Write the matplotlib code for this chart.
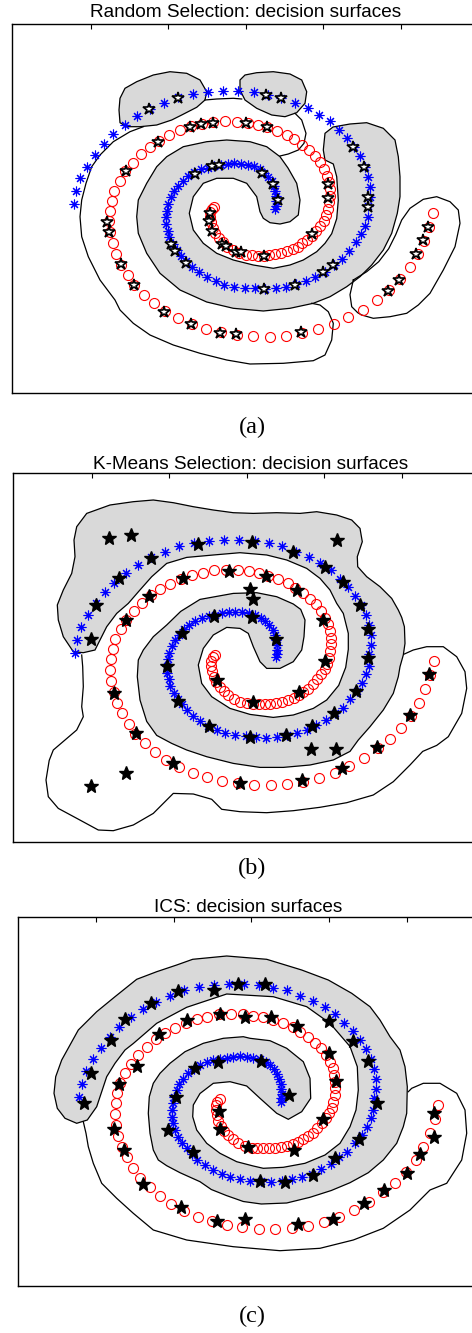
import numpy as np
import matplotlib.pyplot as plt

plt.rcParams['font.family'] = ['Liberation Sans', 'DejaVu Sans']

# ---- two-spiral training set (same points in all three panels) ----
blue_pts = [
    (-172.0, 4.8), (-169.3, 17.5), (-165.3, 30.8), (-158.3, 42.2), (-150.8, 54), (-141.8, 65),
    (-132.5, 74.8), (-120.8, 84.2), (-108.5, 92.7), (-95.8, 100), (-81.6, 105.8), (-67.6, 111.5),
    (-52.6, 114.5), (-37.6, 116.8), (-22.5, 117.8), (-7.5, 117.3), (7.8, 116.5), (22, 114),
    (35.4, 111.2), (49, 105.6), (62, 100.3), (73.2, 94.2), (83.8, 87.5), (93, 78.8), (101.7, 70.3),
    (108.7, 61.5), (114.4, 52.7), (119.4, 42.2), (122.7, 32.2), (124.4, 22.2), (124.7, 12.2),
    (122.7, 3.2), (122, -8.5), (119.7, -16.8), (115.4, -25.2), (110.4, -33.5), (103.7, -41.8),
    (96, -50.2), (88, -55.8), (79.7, -62.8), (69.7, -67.8), (60.4, -72.5), (50.4, -75.2),
    (40.4, -77.8), (30.4, -79.5), (19.4, -80.2), (9.4, -79.5), (-1, -79), (-11.3, -77.8),
    (-21.3, -75.8), (-29.6, -72.5), (-38.6, -68.5), (-46.3, -63.5), (-54, -58.5), (-59.6, -52.5),
    (-64.6, -46.8), (-69, -41.2), (-73, -35.2), (-76.3, -28.5), (-78, -21.8), (-79.3, -15.2),
    (-79.6, -8.5), (-78.6, -1.8), (-77.3, 4.8), (-74.6, 11.5), (-72, 17.5), (-68, 22.8),
    (-63, 28.2), (-57.3, 32.8), (-51.3, 36.6), (-44.6, 39.5), (-38, 41.2), (-31.3, 42.8),
    (-24.6, 44), (-18, 45), (-11.3, 45.4), (-4.6, 45), (2, 44), (8.7, 42.4), (14.4, 39.6),
    (18.7, 36.2), (22.7, 32.2), (26, 27.5), (28, 22.5), (29.4, 17.5), (30, 12.5), (30.4, 7.5),
    (30, 3.2), (29.4, 0),
]
red_pts = [
    (187, -3.8), (183.7, -17.8), (178.7, -31.8), (172, -45.2), (164.4, -58.5), (154.7, -70.2),
    (143.7, -81.2), (131.4, -90.8), (117.7, -100.8), (102.7, -108.5), (88, -115.2), (72.7, -120.2),
    (56.4, -124.2), (40.4, -126.8), (24, -127.8), (7.5, -127.5), (-9, -125.8), (-24.6, -123.5),
    (-39.6, -119.8), (-53.6, -115.2), (-67.3, -109.2), (-80.3, -102.5), (-91.3, -94.5),
    (-101.3, -85.8), (-111.3, -76.2), (-118, -66.2), (-124.6, -55.8), (-129.6, -45.2),
    (-133, -34.2), (-135.3, -23.5), (-136.3, -12.5), (-135.6, -1.8), (-134, 8.2), (-131.3, 18.2),
    (-126, 28.2), (-120.3, 37.5), (-113, 46.2), (-104.6, 54.8), (-95.6, 62.2), (-86.3, 68.2),
    (-76.3, 73.8), (-65.3, 78.8), (-54.6, 82.5), (-44, 84.8), (-32.3, 87.2), (-20.6, 87.8),
    (-8.6, 87.2), (2, 86), (12, 84.2), (21.4, 81.5), (31.4, 78.2), (41.4, 74.2), (48.7, 69.8),
    (56.4, 64.2), (63.7, 58.8), (69.7, 53.2), (74.7, 46.5), (78.7, 39.8), (81.4, 33.2), (83, 26.5),
    (84, 19.8), (84, 13.2), (83.4, 6.5), (82, -0.2), (80.4, -6.2), (78, -11.8), (74.7, -16.8),
    (70.7, -21.8), (66, -26.8), (61.4, -31.2), (56.7, -34.5), (52, -37.8), (47, -40.5),
    (41.4, -42.5), (35.4, -44.2), (29.7, -45.2), (23.7, -46.2), (18, -46.8), (12, -46.8),
    (6, -46.5), (0.4, -46), (-6.3, -44.2), (-13, -41.2), (-18.6, -37.8), (-23, -33.5),
    (-27, -29.2), (-30.3, -24.5), (-33, -19.2), (-34.6, -13.5), (-35.6, -8.5), (-35.6, -3.5),
    (-34, 0), (-31.3, 2.2),
]

# ---- selected samples (black stars) per method ----
stars_random = [
    (-96.4, 99.4), (-67.4, 111), (20.3, 113.7), (35, 110.4), (-55.7, 81.4), (-44.7, 84.7),
    (-32.4, 85.4), (0.3, 85.4), (21, 81.4), (-87.4, 67), (107.6, 61.4), (118.3, 42), (122.6, 12),
    (122.6, 2), (182, -18), (177, -31.3), (170.3, -45.6), (153.3, -71.3), (142, -82), (87, -56.3),
    (77.7, -63), (49.3, -76.3), (18.7, -80.3), (-119.7, 38), (-138.3, -13), (-136.4, -23),
    (-125, -55.6), (-111.4, -76.3), (-33.4, 43), (-26.7, 43.7), (-50.7, 34.7), (16.6, 36),
    (27.6, 24.4), (32, 8.7), (-35.7, -4.7), (-36.4, -12.3), (-34, -22), (-23.4, -35.6),
    (-20, -37.3), (-9.7, -43), (-5, -43.6), (18.3, -47.3), (66, -25.3), (82.6, 24.4), (82.6, 10.4),
    (-74.7, -35.3), (-70.7, -42), (-60, -54.6), (-81.4, -103), (-54.7, -115.3), (-25.7, -124),
    (-10, -125.6), (55.3, -123.6),
]
stars_kmeans = [
    (-137.7, 119.1), (-115.7, 122.4), (-48.4, 113.4), (5.6, 115.7), (46.6, 105.1), (90.6, 117.4),
    (-96, 99.1), (-127.7, 79.1), (-151, 52.8), (-64, 79.7), (-18, 86.7), (19.3, 81.7), (50, 67.4),
    (78.3, 90.1), (96, 75.1), (113.3, 52.4), (3.3, 68.4), (6.6, 58.4), (-97.7, 61.7),
    (-155.7, 18.1), (-120.7, 37.4), (-64.4, 24.7), (-32.4, 41.4), (5, 40.7), (29.3, 18.1),
    (-79.4, -8.6), (-68.4, -43.3), (-30, -22.6), (6.6, -44.3), (52.6, -34.3), (78.3, -3.6),
    (76.7, 37.4), (121.7, 28.1), (121.7, -0.9), (109.3, -33.3), (87.7, -55.9), (65, -68.6),
    (39.3, -77.6), (3.3, -79.9), (-37.4, -68.3), (-132.4, -35.9), (-111, -75.3), (64, -91.6),
    (89.3, -91.6), (130.7, -89.3), (163.3, -57.6), (182.6, -16.6), (-155.7, -128.6),
    (-121, -115.3), (-73.4, -105.9), (-6.7, -125.3), (55.6, -122.6), (95, -110.9),
]
stars_ics = [
    (-140.6, 61.8), (-126.3, 82.2), (-100.5, 98.5), (-73.8, 110.3), (-37.2, 111.5), (-13.4, 117.3),
    (13.3, 117.5), (77.2, 81), (102, 60.8), (-92, 67.2), (-64.6, 81.2), (-31.6, 87.8), (-6.2, 84.5),
    (19.4, 84.8), (45.7, 75.6), (-160.3, 28.2), (-167.8, -1), (-114.6, 36), (-132, 17.4),
    (-137.2, -27.8), (-127.7, -48.2), (-108, -82.5), (-56.3, 33.2), (-33, 39.2), (9.5, 40.8),
    (37.2, 6.5), (-75.3, 4.5), (-83.5, -28.8), (-58, -50.5), (-32.5, -9.3), (-31.6, -27.7),
    (-3.8, -45), (42.3, -48.2), (71.4, -17.8), (85, 20.8), (77.8, 48.8), (117, 40.2), (125.7, -1.8),
    (107.7, -37.5), (83.7, -56.8), (61.2, -73), (34, -80.5), (9, -79), (182.7, -11.2),
    (182.7, -35.8), (168.7, -52.5), (155.7, -71.8), (133, -88), (-70.6, -105.5), (-34.2, -119.7),
    (-6.8, -117.3), (47, -122.6), (81.4, -117.6), (112.7, -101.8),
]

# ---- decision surfaces (level-0 contours) ----
random_blob_a = [
    (-125.7, 110.4), (-120.7, 120.4), (-109, 127), (-92.4, 133.7), (-75.7, 137), (-59, 135.4),
    (-45.7, 128.7), (-39, 117), (-40.7, 108.7), (-49, 101.4), (-64, 93.7), (-74, 88.7),
    (-89, 83.7), (-105.7, 82), (-119, 82), (-125.7, 86), (-126.7, 98.7),
]
random_blob_b = [
    (-5.7, 128.7), (-0.7, 133.7), (11, 136), (27.6, 137), (44.3, 134.7), (56, 128.7), (61, 117),
    (59.3, 105.4), (51, 96), (39.3, 92), (26, 93.7), (11, 100.4), (-0.7, 108.7), (-5.7, 118.7),
]
random_band = [
    (79.3, 75.4), (87.3, 81.7), (104.3, 84.7), (121, 86), (137.6, 80.4), (149.3, 68.7), (152.6, 52),
    (154.3, 32), (154.3, 12), (151.6, -4.6), (146, -24.6), (137.6, -41.3), (126, -56.3),
    (114.3, -68), (101, -78), (84.3, -88), (67.6, -94.6), (44.3, -99.6), (17.6, -102.3),
    (-12.4, -99.6), (-39, -93.3), (-65.7, -81.3), (-85.7, -64.6), (-99, -44.6), (-107.4, -24.6),
    (-109, -8), (-107.4, 8.7), (-99, 25.4), (-89, 42), (-79, 52), (-62.4, 62), (-39, 67),
    (-19, 68.7), (4.3, 67), (21, 62), (34.3, 52), (42.3, 40.7), (51, 25.4), (54.3, 8.7),
    (52.6, -6.3), (44.3, -13), (34.3, -15.3), (24.3, -14), (17.6, -9.6), (14.3, -3), (11, 12),
    (1, 25.4), (-12.4, 30.4), (-29, 30.4), (-42.4, 25.4), (-52.4, 12), (-56.4, -4.6),
    (-52.4, -21.3), (-42.4, -34.6), (-29, -44.6), (-12.4, -51.3), (7.6, -56.3), (27.6, -59.6),
    (44.3, -56.3), (57.6, -51.3), (71, -43), (79.3, -34.6), (86, -25), (91, -10), (92.6, 8.7),
    (91, 32), (87.6, 44.7), (79.3, 48.7), (77.6, 58.7),
]
random_white_blob = [
    (107.6, -71.3), (104.3, -86), (106, -98), (112, -104), (116, -106.3), (127.6, -109.6),
    (144.3, -108), (161, -104.6), (172.6, -96.3), (184.3, -84.6), (197.6, -61.3), (209.3, -38),
    (214.3, -14.6), (212.6, -1.3), (204.3, 7), (191, 12), (177.6, 9.4), (164.3, 0.4), (156, -11.3),
    (150, -26), (143, -40), (133, -53), (121, -63), (107.6, -71.3),
]
random_line_top = [(49.3, 95.4), (56, 88.7), (60.3, 75.4), (58.3, 65.4), (52.6, 58.7), (42.6, 54.7), (34.3, 52.7)]
random_line_mid = [(-40.7, 108.7), (-29, 109.7), (-12.4, 110.4), (-4, 109.7)]
random_line_outer = [
    (-102.4, 82), (-115.7, 77), (-132.4, 67), (-145.7, 53.7), (-154, 42), (-159.7, 25.4),
    (-164, 8.7), (-165.7, -8), (-164, -28), (-157.4, -48), (-145.7, -71.3), (-130.7, -91.3),
    (-125.7, -101.3), (-112.4, -114.6), (-95.7, -126.3), (-72.4, -136.3), (-45.7, -144.6),
    (-19, -151.3), (4.3, -155.3), (37.6, -154.6), (67.6, -152), (79.3, -146.3), (86, -131.3),
    (87.6, -114.6), (82.6, -103), (74.3, -96.3), (66, -94.6),
]

kmeans_band = [
    (-173.4, 5.7), (-183.4, 20.7), (-188.4, 37.4), (-189.4, 52.4), (-183.4, 67.4), (-175, 84),
    (-171.7, 100.7), (-172.7, 117.4), (-170, 130.7), (-160, 144), (-136.7, 152.4), (-113.4, 155.7),
    (-93.4, 157.4), (-73.4, 154.7), (-53.4, 150.7), (-33.4, 147.4), (-13.4, 144.7), (6.6, 144),
    (30, 144.7), (53.3, 144), (70, 145.7), (90, 142.4), (105, 137.4), (113.3, 129), (115.6, 115.7),
    (110.6, 100.7), (111, 90.7), (120, 80.7), (133.3, 70.7), (145, 59), (151.6, 47.4), (155, 40),
    (157.7, 30.7), (158.3, 14), (156.6, 2.4), (153.3, -9.3), (151.6, -19.3), (146.6, -36),
    (136.6, -52.6), (123.3, -69.3), (111.6, -82.6), (103.3, -94), (86.6, -102.6), (63.3, -107.6),
    (36.6, -110), (13.3, -110), (-13.4, -106), (-40, -99.3), (-60, -92.6), (-75, -86), (-90, -78),
    (-100, -64), (-106.7, -42.6), (-109.4, -19.3), (-108.4, -2.6), (-103.4, 7.4), (-93.4, 20.7),
    (-80, 32.4), (-66, 46), (-46.7, 58), (-13.4, 64), (10, 64.7), (30, 60.7), (46.6, 53.4),
    (54, 48), (58.3, 37.4), (57.3, 20.7), (55, 7.4), (46.6, -4.3), (33.3, -11), (20, -11),
    (13.3, -4.3), (6.6, 10.7), (1.6, 24), (-6.7, 29), (-20, 30), (-33.4, 22.4), (-43.4, 9),
    (-48.4, -7.6), (-45, -26), (-35, -39.3), (-16.7, -51), (3.3, -57), (26.6, -60), (46.6, -57.6),
    (66.6, -51), (80, -42.6), (92, -28), (99, -10), (101.6, 8), (101.6, 24), (96.6, 44), (90, 54),
    (83.3, 67.4), (73.3, 79), (60, 89), (40, 97.4), (20, 102.4), (-6.7, 104.7), (-33.4, 102.4),
    (-60, 100), (-80, 94), (-95, 80.7), (-108, 66), (-118.4, 54), (-130, 44), (-140, 30.7),
    (-146.7, 17.4), (-151.7, 7.4), (-163.4, 4.7),
]
kmeans_line_outer = [
    (-165, 2.4), (-164, -9.3), (-163.4, -29.3), (-165, -49.3), (-163.4, -59.3), (-170, -72.6),
    (-181.7, -82.6), (-193.4, -92.6), (-197.5, -103), (-200.7, -122.6), (-198.4, -139.3),
    (-188.4, -151), (-170, -160.9), (-148.4, -172.6), (-133.4, -173.3), (-113.4, -167.6),
    (-93.4, -156), (-73.4, -136), (-53.4, -136.6), (-35, -141.9), (-25, -151.9), (-6.7, -154.3),
    (20, -155.3), (46.6, -153.3), (73.3, -149.9), (100, -145.3), (126.6, -137.6), (146.6, -124.3),
    (163.3, -107.6), (176, -94), (190, -88), (201.6, -79.3), (215, -56), (220, -31),
    (218.3, -14.3), (210, 0.7), (196.6, 10.7), (180, 10.7), (166.6, 7.4), (157.7, 3.4),
]

ics_band = [
    (-174.6, -21.8), (-186.3, -16.8), (-194, -6.8), (-197.3, 8.2), (-195.6, 24.8), (-189.6, 41.5),
    (-181.3, 56.5), (-173, 71.5), (-154.6, 89.8), (-136.3, 104.8), (-114.6, 122.2), (-94.6, 129.8),
    (-74.6, 136.5), (-58.6, 142.2), (-24.6, 145.5), (15.4, 142.2), (50.4, 131.5), (77, 121.5),
    (100.4, 108.2), (118.7, 94.8), (128.7, 81.5), (138.7, 64.8), (148.7, 51.5), (153.7, 34.8),
    (156, 14.8), (155.4, -11.8), (152, -25.2), (145.4, -41.8), (132, -58.5), (117, -71.2),
    (98.7, -81.2), (80, -89), (58.7, -95.8), (35.4, -101.5), (10, -102.5), (-8, -100),
    (-25, -94), (-40, -88), (-51.3, -80.2), (-71.3, -71.2), (-84.6, -64.2), (-93, -58.5),
    (-98, -48.5), (-101.3, -31.8), (-103, -11.8), (-102, 4.8), (-98, 18.2), (-91.3, 28.2),
    (-81.3, 38.2), (-66.3, 49.8), (-48, 58.2), (-28, 63.2), (-8, 64.8), (-1.3, 63.2), (18.7, 60.8),
    (35.4, 53.2), (52, 39.8), (58.7, 23.2), (59.4, 3.2), (50.4, -10.2), (37, -17.8), (25.4, -11.8),
    (8.7, 3.2), (-4.6, 15.5), (-21.3, 19.8), (-38, 18.2), (-51.3, 8), (-58, -3.5), (-58.6, -15.2),
    (-54.6, -28.5), (-44.6, -41.8), (-31.3, -51.8), (-14.6, -60.2), (2, -64.5), (12, -66.8),
    (32, -65.8), (53.7, -61.8), (73.7, -53.5), (88.7, -41.8), (98.7, -25.2), (104.7, -8.5),
    (107, 11.5), (106, 34.8), (98.7, 55), (78.7, 78.2), (55.4, 94.8), (22, 104.8), (-24.6, 107.5),
    (-64.6, 94.2), (-94.6, 78.2), (-118, 58), (-126.3, 51.5), (-136.3, 38.2), (-144.6, 24.8),
    (-149.6, 9.8), (-154.6, -5.2), (-164, -18.5),
]
ics_line_outer = [
    (-168, -20.2), (-165.3, -31.8), (-163, -45.2), (-158, -61.8), (-149.6, -81.8), (-134.6, -96.8),
    (-118, -111.8), (-98, -128.5), (-64.6, -138.5), (-18, -145.2), (28.7, -149.2), (68.7, -146.8),
    (102, -138.5), (132, -126.8), (158.7, -108.5), (178.7, -88.5), (195.4, -81.8), (210.4, -58.5),
    (215.4, -31.8), (213.7, -8.5), (205.4, 8.2), (188.7, 18.2), (172, 18.2), (160.4, 13.2),
    (157, 9.8),
]

titles = ['Random Selection: decision surfaces', 'K-Means Selection: decision surfaces',
          'ICS: decision surfaces']
captions = ['(a)', '(b)', '(c)']

W, H = 472, 1333
fig = plt.figure(figsize=(W / 100, H / 100), dpi=100)

# panel centres (px) in the original layout
centres = [(245.7, 208.7), (246.7, 657.4), (251.3, 1101.5)]
title_pos = [(245.5, 17.3), (251, 469.3), (248, 912.5)]
caption_pos = [(252, 427), (252, 868), (252, 1316)]
half_w, half_h = 233.5, 184.5

panels = [
    dict(gray=[random_blob_a, random_blob_b, random_band],
         lines=[random_white_blob, random_line_top, random_line_mid, random_line_outer],
         stars=stars_random, hollow=True),
    dict(gray=[kmeans_band], lines=[kmeans_line_outer], stars=stars_kmeans, hollow=False),
    dict(gray=[ics_band], lines=[ics_line_outer], stars=stars_ics, hollow=False),
]

bx, by = np.array(blue_pts).T
rx, ry = np.array(red_pts).T

for k, p in enumerate(panels):
    cx, cy = centres[k]
    ax = fig.add_axes([(cx - half_w) / W, 1 - (cy + half_h) / H, 2 * half_w / W, 2 * half_h / H])
    ax.set_xlim(-half_w, half_w)
    ax.set_ylim(-half_h, half_h)

    for poly in p['gray']:
        xy = np.array(poly)
        ax.fill(xy[:, 0], xy[:, 1], facecolor='#d9d9d9', edgecolor='k', lw=0.9, zorder=1)
    for ln in p['lines']:
        xy = np.array(ln)
        ax.plot(xy[:, 0], xy[:, 1], color='k', lw=0.9, zorder=2)

    ax.plot(rx, ry, 'o', ms=7.2, mfc='none', mec='red', mew=0.8, zorder=3)
    ax.plot(bx, by, ls='none', marker=(8, 2, 0), ms=7, mec='blue', mew=0.8, zorder=3)

    sx, sy = np.array(p['stars']).T
    if p['hollow']:
        ax.plot(sx, sy, '*', ms=9, mfc='white', mec='k', mew=1.2, zorder=4)
    else:
        ax.plot(sx, sy, '*', ms=10, mfc='k', mec='k', zorder=4)

    ax.xaxis.tick_top()
    ax.set_xticks([-155.2, -77.6, 0, 77.6, 155.2])
    ax.set_yticks([])
    ax.tick_params(axis='x', direction='in', length=3.5, labeltop=False, width=0.8)
    for s in ax.spines.values():
        s.set_linewidth(1.0)

    tx, ty = title_pos[k]
    fig.text(tx / W, 1 - ty / H, titles[k], ha='center', va='baseline', fontsize=13.7)
    qx, qy = caption_pos[k]
    fig.text(qx / W, 1 - qy / H, captions[k], ha='center', va='center', fontsize=17.5,
             family=['Liberation Serif', 'DejaVu Serif'])

fig.savefig('out.png', dpi=100)
